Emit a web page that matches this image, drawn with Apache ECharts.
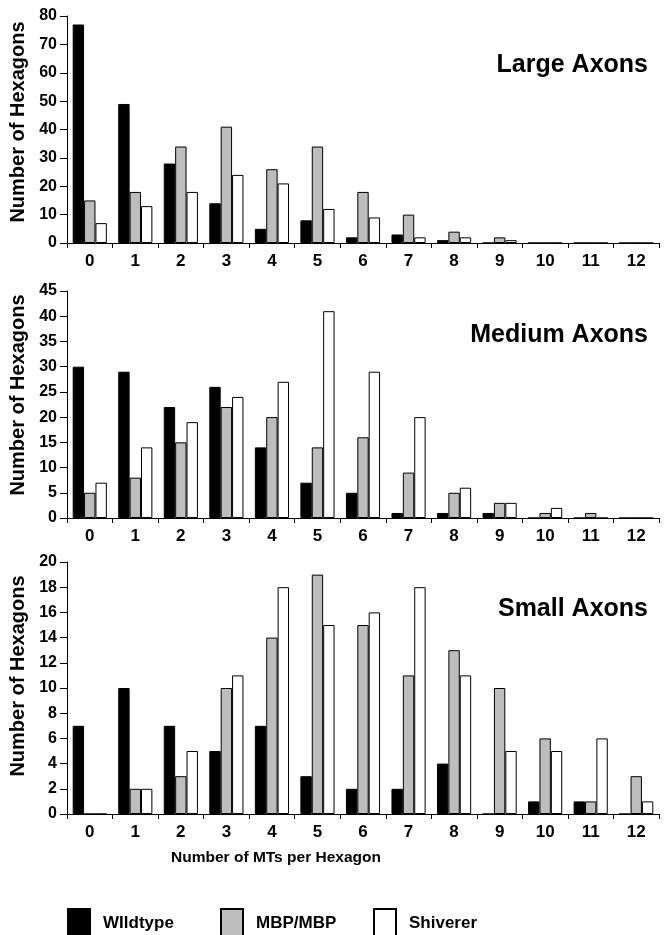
<!DOCTYPE html>
<html>
<head>
<meta charset="utf-8">
<script src="https://cdn.jsdelivr.net/npm/echarts@6/dist/echarts.min.js"></script>
<style>
html,body{margin:0;padding:0;background:#fff;}
#chart{width:670px;height:935px;}
</style>
</head>
<body>
<div id="chart"></div>
<script>
const categories = ['0','1','2','3','4','5','6','7','8','9','10','11','12'];
const seriesNames = ['WIldtype', 'MBP/MBP', 'Shiverer'];

const largeWildtype = [77, 49, 28, 14, 5, 8, 2, 3, 1, 0, 0, 0, 0];
const largeMBP      = [15, 18, 34, 41, 26, 34, 18, 10, 4, 2, 0, 0, 0];
const largeShiverer = [7, 13, 18, 24, 21, 12, 9, 2, 2, 1, 0, 0, 0];

const mediumWildtype = [30, 29, 22, 26, 14, 7, 5, 1, 1, 1, 0, 0, 0];
const mediumMBP      = [5, 8, 15, 22, 20, 14, 16, 9, 5, 3, 1, 1, 0];
const mediumShiverer = [7, 14, 19, 24, 27, 41, 29, 20, 6, 3, 2, 0, 0];

const smallWildtype = [7, 10, 7, 5, 7, 3, 2, 2, 4, 0, 1, 1, 0];
const smallMBP      = [0, 2, 3, 10, 14, 19, 15, 11, 13, 10, 6, 1, 3];
const smallShiverer = [0, 2, 5, 11, 18, 15, 16, 18, 11, 5, 5, 6, 1];

const panelTitles = ['Large Axons', 'Medium Axons', 'Small Axons'];
const yMax = [80, 45, 20];
const yInterval = [10, 5, 2];
const yAxisName = 'Number of Hexagons';
const xAxisTitle = 'Number of MTs per Hexagon';

const FONT = '"Liberation Sans", Arial, Helvetica, sans-serif';
const colors = ['#000000', '#bdbdbd', '#ffffff'];

const grids = [
  {left: 67, right: 11, top: 16, bottom: 692},
  {left: 67, right: 11, top: 291, bottom: 417},
  {left: 67, right: 11, top: 562, bottom: 121}
];
const namePad = [15, 19, 24];
const titleY = [63, 333, 607];

const panelData = [
  [largeWildtype, largeMBP, largeShiverer],
  [mediumWildtype, mediumMBP, mediumShiverer],
  [smallWildtype, smallMBP, smallShiverer]
];

const xAxes = grids.map((g, i) => ({
  type: 'category', gridIndex: i, data: categories,
  boundaryGap: true,
  axisLine: {lineStyle: {color: '#000', width: 1}},
  axisTick: {show: true, length: 5, alignWithLabel: false, lineStyle: {color: '#000'}},
  axisLabel: {color: '#000', fontSize: 17, fontWeight: 'bold', fontFamily: FONT, margin: 10, interval: 0},
  splitLine: {show: false}
}));

const yAxes = grids.map((g, i) => ({
  type: 'value', gridIndex: i, min: 0, max: yMax[i], interval: yInterval[i],
  name: yAxisName, nameLocation: 'middle', nameGap: 30,
  nameTextStyle: {color: '#000', fontSize: 20, fontWeight: 'bold', fontFamily: FONT, padding: [0, 0, 0, namePad[i]]},
  axisLine: {show: true, lineStyle: {color: '#000', width: 1}},
  axisTick: {show: true, length: 7, lineStyle: {color: '#000'}},
  axisLabel: {color: '#000', fontSize: 16, fontWeight: 'bold', fontFamily: FONT, margin: 10},
  splitLine: {show: false}
}));

const series = [];
panelData.forEach((arrs, i) => {
  arrs.forEach((vals, j) => {
    series.push({
      type: 'bar', name: seriesNames[j], xAxisIndex: i, yAxisIndex: i,
      data: vals, barGap: '0%', barCategoryGap: '25%',
      itemStyle: {color: colors[j], borderColor: '#000', borderWidth: 1},
      emphasis: {disabled: true}
    });
  });
});

const titles = panelTitles.map((t, i) => ({
  text: t, right: 17, top: titleY[i] - 15,
  textStyle: {color: '#000', fontSize: 25, fontWeight: 'bold', fontFamily: FONT}
}));
titles.push({
  text: xAxisTitle, left: 271, top: 845, textAlign: 'center',
  textStyle: {color: '#000', fontSize: 15.5, fontWeight: 'bold', fontFamily: FONT}
});

const legendLefts = [67, 220, 373];
const legends = seriesNames.map((n, j) => ({
  data: [n], left: legendLefts[j], top: 908, padding: 0,
  itemWidth: 22, itemHeight: 28, icon: 'rect',
  selectedMode: false,
  textStyle: {color: '#000', fontSize: 17, fontWeight: 'bold', fontFamily: FONT, padding: [0, 0, 0, 8]}
}));

const chart = echarts.init(document.getElementById('chart'), null, {renderer: 'canvas'});
chart.setOption({
  animation: false,
  backgroundColor: '#fff',
  title: titles,
  legend: legends,
  grid: grids,
  xAxis: xAxes,
  yAxis: yAxes,
  series: series
});
</script>
</body>
</html>
